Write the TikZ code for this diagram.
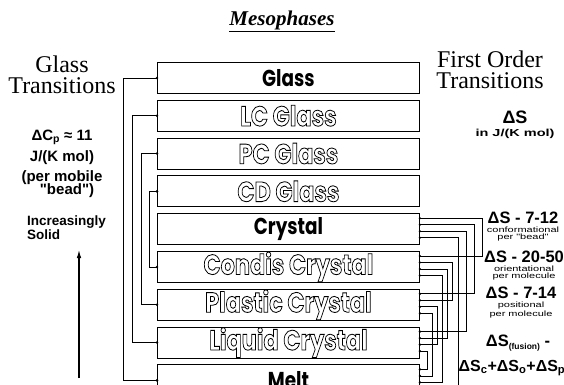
\documentclass[tikz,border=0pt]{standalone}
\usepackage{fontspec}
\setmainfont{Liberation Serif}
\setsansfont{Liberation Sans}
\newfontfamily\phasefont{Poppins}
\usepackage{graphicx}
\usetikzlibrary{arrows.meta,positioning,calc}
\newcommand{\outlined}[1]{\scalebox{0.8}[1]{\special{pdf:literal direct 1 Tr 0.85 w}\bfseries #1\special{pdf:literal direct 0 Tr}}}
\newcommand{\solidtext}[1]{\scalebox{0.8}[1]{#1}}
\newcommand{\squash}[1]{\scalebox{1}[0.7]{#1}}
\tikzset{
  phase/.style={draw, line width=0.9pt, minimum width=262pt, minimum height=31pt, inner sep=0pt, font=\phasefont\fontsize{28}{28}\selectfont},
  solidphase/.style={phase, font=\phasefont\bfseries\fontsize{23}{23}\selectfont},
  link/.style={line width=0.8pt},
  heading/.style={font=\fontsize{24}{21}\selectfont, align=center, inner sep=0pt},
  note/.style={font=\sffamily\bfseries\fontsize{15}{15}\selectfont, align=center, inner sep=0pt},
  bignote/.style={font=\sffamily\bfseries\fontsize{16.5}{16.5}\selectfont, inner sep=0pt},
  smallnote/.style={font=\sffamily\fontsize{11}{11}\selectfont, inner sep=0pt}
}
\begin{document}
\begin{tikzpicture}[x=1pt,y=-1pt]
  \useasboundingbox (0,0) rectangle (564,384);
  \clip (0,0) rectangle (564,384);
  % the phases
  \node[solidphase, anchor=north west] (glass) at (157,62) {\solidtext{Glass}};
  \node[phase, below=5.9pt of glass] (lcglass) {\outlined{LC Glass}};
  \node[phase, below=5.9pt of lcglass] (pcglass) {\outlined{PC Glass}};
  \node[phase, below=5.9pt of pcglass] (cdglass) {\outlined{CD Glass}};
  \node[solidphase, below=5.9pt of cdglass] (crystal) {\solidtext{Crystal}};
  \node[phase, below=5.9pt of crystal] (condis) {\outlined{Condis Crystal}};
  \node[phase, below=5.9pt of condis] (plastic) {\outlined{Plastic Crystal}};
  \node[phase, below=5.9pt of plastic] (liquid) {\outlined{Liquid Crystal}};
  \node[solidphase, below=5.9pt of liquid] (melt) {\solidtext{Melt}};
  % headings
  \node[font=\bfseries\itshape\fontsize{21}{21}\selectfont, inner sep=0pt] (meso) at (282,21) {\underline{Mesophases}};
  \node[heading] (glasstr) at (62,75) {Glass\\Transitions};
  \node[heading] (firsttr) at (490,70) {First Order\\Transitions};
  % glass transitions
  \foreach \a/\b/\d in {glass/melt/34, lcglass/liquid/25, pcglass/plastic/16, cdglass/condis/8}
    \draw[link] (\a.west) -- ++(-\d,0) |- (\b.west);
  \foreach \n in {glass,lcglass,pcglass,cdglass,condis,plastic,liquid,melt}
    \fill (\n.west) circle (1.4);
  % first order transitions
  \foreach \n in {crystal,condis,plastic,liquid,melt}
    \foreach \k/\d in {1/5,2/11.5,3/18,4/24.5}
      \coordinate (\n-\k) at ($(\n.north east)+(0,\d)$);
  \foreach \a/\i/\b/\j/\c in {crystal/1/condis/1/481, crystal/2/plastic/1/473,
      crystal/3/liquid/1/465, crystal/4/melt/4/457, condis/2/plastic/2/451,
      condis/3/liquid/2/446, condis/4/melt/3/441, plastic/3/liquid/3/436,
      plastic/4/melt/2/431, liquid/4/melt/1/426}
    \draw[link] (\a-\i) -- ++({\c-419},0) |- (\b-\j);
  \foreach \n in {crystal,condis,plastic,liquid,melt}
    \foreach \k in {1,...,4}
      \fill (\n-\k) circle (1.3);
  % left notes
  \node[note] (dcp) at (62,137) {ΔC\textsubscript{p} ≈ 11};
  \node[note, below=6pt of dcp] (dcpunit) {J/(K mol)};
  \node[note, below=5pt of dcpunit] (mobile) {(per mobile\\[-2pt]\hspace*{10pt}\textquotedbl bead\textquotedbl)};
  \node[note, font=\sffamily\bfseries\fontsize{13.5}{14}\selectfont, align=left, anchor=north west] (solid) at (27,216) {Increasingly\\Solid};
  \coordinate (solidlow) at (79,378);
  \coordinate (solidhigh) at (79,249);
  \draw[line width=1.6pt, -{Latex[length=9pt,width=4.5pt]}] (solidlow) -- (solidhigh);
  % right notes
  \node[note, font=\sffamily\bfseries\fontsize{18}{18}\selectfont] (ds) at (515,117) {ΔS};
  \node[note, font=\sffamily\bfseries\fontsize{14.5}{14.5}\selectfont, below=5pt of ds] (dsunit) {\squash{in J/(K mol)}};
  \node[bignote] (dsconf) at (523,218) {ΔS - 7-12};
  \node[smallnote, below=2.5pt of dsconf] (conf) {\squash{conformational}};
  \node[smallnote, below=1.5pt of conf] (bead) {\squash{per \textquotedbl bead\textquotedbl}};
  \node[bignote] (dsorient) at (524,257) {ΔS - 20-50};
  \node[smallnote, below=2.5pt of dsorient] (orient) {\squash{orientational}};
  \node[smallnote, below=1.5pt of orient] (permol) {\squash{per molecule}};
  \node[bignote] (dspos) at (521,293) {ΔS - 7-14};
  \node[smallnote, below=2.5pt of dspos] (pos) {\squash{positional}};
  \node[smallnote, below=1.5pt of pos] (permolb) {\squash{per molecule}};
  \node[bignote] (dsfus) at (518,343) {ΔS\raisebox{-3pt}{\fontsize{8.5}{8.5}\selectfont(fusion)} -};
  \node[bignote, font=\sffamily\bfseries\fontsize{16}{16}\selectfont] (dssum) at (512,368) {ΔS\textsubscript{c}+ΔS\textsubscript{o}+ΔS\textsubscript{p}};
\end{tikzpicture}
\end{document}
